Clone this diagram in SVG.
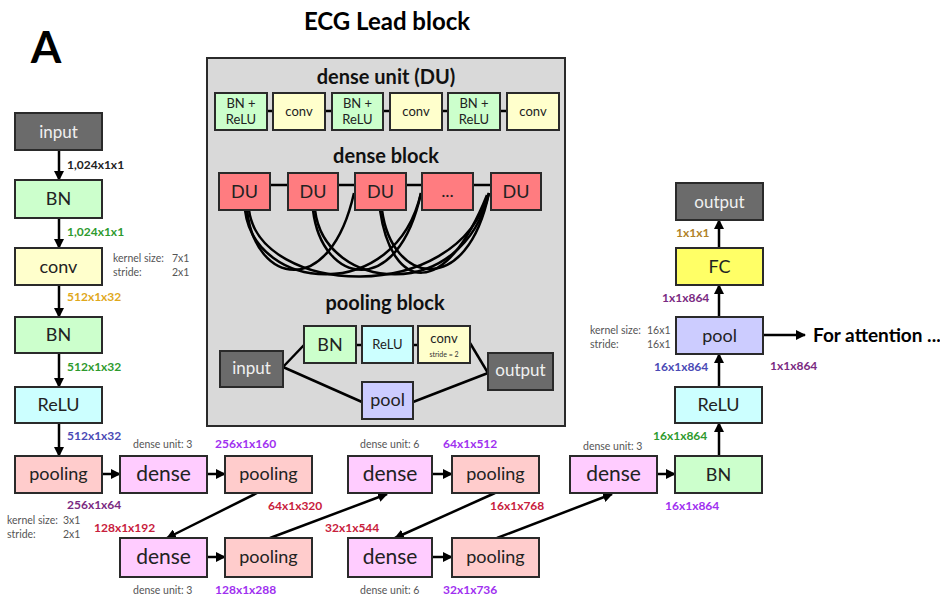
<svg xmlns="http://www.w3.org/2000/svg" width="940" height="596" viewBox="0 0 940 596">
  <defs>
    <marker id="ah" viewBox="0 0 10 10" refX="9" refY="5" markerWidth="10" markerHeight="10" markerUnits="userSpaceOnUse" orient="auto">
      <path d="M0,0 L10,5 L0,10 z" fill="#000"/>
    </marker>
    <style>
      text { font-family: Lato, "Open Sans", "Liberation Sans", sans-serif; }
      .box { stroke: #2a2a2a; stroke-width: 2; }
      .gray { fill: #6b6b6b; }
      .green { fill: #ccffcc; }
      .yellow { fill: #ffffcc; }
      .cyan { fill: #ccffff; }
      .pink { fill: #ffcccc; }
      .magenta { fill: #ffccff; }
      .red { fill: #ff7c80; }
      .lav { fill: #ccccff; }
      .fc { fill: #ffff66; }
      .t { font-size: 18px; fill: #222; text-anchor: middle; }
      .tw { font-size: 17px; fill: #f0f0f0; text-anchor: middle; }
      .td { font-size: 21px; fill: #222; text-anchor: middle; }
      .ts { font-size: 13px; fill: #222; text-anchor: middle; }
      .hd { font-size: 20px; font-weight: bold; fill: #111; text-anchor: middle; }
      .lbl { font-size: 12px; font-weight: bold; }
      .note { font-size: 10.5px; fill: #555; }
      .arr { stroke: #000; stroke-width: 2.5; fill: none; marker-end: url(#ah); }
      .ln { stroke: #000; stroke-width: 2.5; fill: none; }
      .cv { stroke: #000; stroke-width: 2.5; fill: none; }
    </style>
  </defs>

  <rect width="940" height="596" fill="#fff"/>

  <!-- Headings -->
  <text x="46" y="63" font-size="44" font-weight="bold" text-anchor="middle" fill="#000">A</text>
  <text x="387" y="30" font-size="24" font-weight="bold" text-anchor="middle" fill="#000">ECG Lead block</text>

  <!-- Lead-block detail panel -->
  <g id="detail-panel">
    <rect x="207" y="58" width="358" height="368" fill="#d9d9d9" stroke="#2a2a2a" stroke-width="2"/>
    <text class="hd" x="386" y="84">dense unit (DU)</text>
    <!-- dense unit chain -->
    <g class="ln">
      <line x1="267" y1="111" x2="273" y2="111"/>
      <line x1="325" y1="111" x2="332" y2="111"/>
      <line x1="383" y1="111" x2="390" y2="111"/>
      <line x1="442" y1="111" x2="448" y2="111"/>
      <line x1="500" y1="111" x2="507" y2="111"/>
    </g>
    <g id="du-bnrelu-1"><rect class="box green" x="215" y="93" width="52" height="37"/><text class="ts" x="241" y="108">BN +</text><text class="ts" x="241" y="124">ReLU</text></g>
    <g id="du-conv-1"><rect class="box yellow" x="273" y="93" width="52" height="37"/><text class="ts" x="299" y="116">conv</text></g>
    <g id="du-bnrelu-2"><rect class="box green" x="332" y="93" width="51" height="37"/><text class="ts" x="357.500" y="108">BN +</text><text class="ts" x="357.500" y="124">ReLU</text></g>
    <g id="du-conv-2"><rect class="box yellow" x="390" y="93" width="52" height="37"/><text class="ts" x="416" y="116">conv</text></g>
    <g id="du-bnrelu-3"><rect class="box green" x="448" y="93" width="52" height="37"/><text class="ts" x="474" y="108">BN +</text><text class="ts" x="474" y="124">ReLU</text></g>
    <g id="du-conv-3"><rect class="box yellow" x="507" y="93" width="52" height="37"/><text class="ts" x="533" y="116">conv</text></g>

    <text class="hd" x="386" y="163">dense block</text>
    <!-- dense block chain and skip connections -->
    <g class="ln">
      <line x1="270" y1="185" x2="288" y2="185"/>
      <line x1="338" y1="185" x2="355" y2="185"/>
      <line x1="406" y1="185" x2="422" y2="185"/>
      <line x1="473" y1="185" x2="491" y2="185"/>
    </g>
    <g class="cv">
      <path d="M247,210 C255,285 330,300 354,193"/>
      <path d="M245,210 C255,292 395,305 421,193"/>
      <path d="M249,210 C260,295 455,308 489,193"/>
      <path d="M313,210 C322,285 398,300 421,193"/>
      <path d="M315,210 C325,292 462,305 489,193"/>
      <path d="M382,210 C392,285 467,298 489,193"/>
      <path d="M380,210 C392,292 445,300 487,195"/>
    </g>
    <g id="du-1"><rect class="box red" x="219" y="173" width="51" height="37"/><text class="t" x="244.500" y="198">DU</text></g>
    <g id="du-2"><rect class="box red" x="288" y="173" width="50" height="37"/><text class="t" x="313" y="198">DU</text></g>
    <g id="du-3"><rect class="box red" x="355" y="173" width="51" height="37"/><text class="t" x="380.500" y="198">DU</text></g>
    <g id="du-dots"><rect class="box red" x="422" y="173" width="51" height="37"/><text class="t" x="447.500" y="197">...</text></g>
    <g id="du-5"><rect class="box red" x="491" y="173" width="50" height="37"/><text class="t" x="516" y="198">DU</text></g>

    <text class="hd" x="385" y="310">pooling block</text>
    <!-- pooling block paths -->
    <g class="ln">
      <line x1="283" y1="367" x2="304" y2="345"/>
      <line x1="283" y1="367" x2="362" y2="402"/>
      <line x1="356" y1="345" x2="362" y2="345"/>
      <line x1="413" y1="345" x2="418" y2="345"/>
      <line x1="470" y1="343" x2="488" y2="373"/>
      <line x1="413" y1="402" x2="488" y2="373"/>
    </g>
    <g id="pb-input"><rect class="box gray" x="220" y="351" width="63" height="36"/><text class="tw" x="251.500" y="374" font-size="13">input</text></g>
    <g id="pb-bn"><rect class="box green" x="304" y="326" width="52" height="37"/><text class="t" x="330" y="351">BN</text></g>
    <g id="pb-relu"><rect class="box cyan" x="362" y="326" width="51" height="37"/><text class="ts" x="387.500" y="349">ReLU</text></g>
    <g id="pb-conv"><rect class="box yellow" x="418" y="326" width="52" height="37"/><text class="ts" x="444" y="343" font-size="15">conv</text><text x="444" y="357" font-size="7" fill="#333" text-anchor="middle">stride = 2</text></g>
    <g id="pb-pool"><rect class="box lav" x="362" y="382" width="51" height="37"/><text class="t" x="387.500" y="406" font-size="15">pool</text></g>
    <g id="pb-output"><rect class="box gray" x="488" y="353" width="65" height="37"/><text class="tw" x="520.500" y="376" font-size="13">output</text></g>
  </g>

  <!-- Connectors -->
  <g id="connectors">
    <line class="arr" x1="59" y1="150" x2="59" y2="180"/>
    <line class="arr" x1="59" y1="218" x2="59" y2="248"/>
    <line class="arr" x1="59" y1="285" x2="59" y2="317"/>
    <line class="arr" x1="59" y1="353" x2="59" y2="387"/>
    <line class="arr" x1="59" y1="423" x2="59" y2="456"/>
    <line class="arr" x1="102" y1="474" x2="120" y2="474"/>
    <line class="arr" x1="207" y1="474" x2="225" y2="474"/>
    <line class="arr" x1="257" y1="493" x2="167" y2="538"/>
    <line class="arr" x1="207" y1="557" x2="225" y2="557"/>
    <line class="arr" x1="270" y1="538" x2="387" y2="494"/>
    <line class="arr" x1="432" y1="474" x2="452" y2="474"/>
    <line class="arr" x1="495" y1="493" x2="395" y2="538"/>
    <line class="arr" x1="432" y1="557" x2="452" y2="557"/>
    <line class="arr" x1="497" y1="538" x2="612" y2="494"/>
    <line class="arr" x1="657" y1="474" x2="675" y2="474"/>
    <line class="arr" x1="719" y1="456" x2="719" y2="423"/>
    <line class="arr" x1="719" y1="387" x2="719" y2="354"/>
    <line class="arr" x1="719" y1="317" x2="719" y2="285"/>
    <line class="arr" x1="719" y1="248" x2="719" y2="220"/>
    <line class="arr" x1="763" y1="335" x2="805" y2="335"/>
  </g>

  <!-- Stem column -->
  <g id="input"><rect class="box gray" x="15" y="113" width="87" height="37"/><text class="tw" x="58.500" y="138">input</text></g>
  <g id="bn-1"><rect class="box green" x="15" y="180" width="87" height="38"/><text class="t" x="58.500" y="205">BN</text></g>
  <g id="conv"><rect class="box yellow" x="15" y="248" width="87" height="37"/><text class="t" x="58.500" y="273">conv</text></g>
  <g id="bn-2"><rect class="box green" x="15" y="317" width="87" height="36"/><text class="t" x="58.500" y="341">BN</text></g>
  <g id="relu-1"><rect class="box cyan" x="15" y="387" width="87" height="36"/><text class="t" x="58.500" y="411">ReLU</text></g>
  <g id="pooling-0"><rect class="box pink" x="15" y="456" width="87" height="37"/><text class="t" x="58.500" y="480" font-size="17">pooling</text></g>

  <!-- Dense / pooling stages -->
  <g id="dense-1"><rect class="box magenta" x="120" y="456" width="87" height="37"/><text class="td" x="163.500" y="481">dense</text></g>
  <g id="pooling-1"><rect class="box pink" x="225" y="456" width="87" height="37"/><text class="t" x="268.500" y="480" font-size="17">pooling</text></g>
  <g id="dense-2"><rect class="box magenta" x="120" y="538" width="87" height="39"/><text class="td" x="163.500" y="564">dense</text></g>
  <g id="pooling-2"><rect class="box pink" x="225" y="538" width="87" height="39"/><text class="t" x="268.500" y="563" font-size="17">pooling</text></g>
  <g id="dense-3"><rect class="box magenta" x="348" y="456" width="84" height="37"/><text class="td" x="390" y="481">dense</text></g>
  <g id="pooling-3"><rect class="box pink" x="452" y="456" width="87" height="37"/><text class="t" x="495.500" y="480" font-size="17">pooling</text></g>
  <g id="dense-4"><rect class="box magenta" x="348" y="538" width="84" height="39"/><text class="td" x="390" y="564">dense</text></g>
  <g id="pooling-4"><rect class="box pink" x="452" y="538" width="87" height="39"/><text class="t" x="495.500" y="563" font-size="17">pooling</text></g>
  <g id="dense-5"><rect class="box magenta" x="570" y="456" width="87" height="37"/><text class="td" x="613.500" y="481">dense</text></g>

  <!-- Head column -->
  <g id="bn-3"><rect class="box green" x="675" y="456" width="87" height="37"/><text class="t" x="718.500" y="481">BN</text></g>
  <g id="relu-2"><rect class="box cyan" x="675" y="387" width="87" height="36"/><text class="t" x="718.500" y="411">ReLU</text></g>
  <g id="pool"><rect class="box lav" x="676" y="317" width="87" height="37"/><text class="t" x="719.500" y="342">pool</text></g>
  <g id="fc"><rect class="box fc" x="676" y="248" width="87" height="37"/><text class="t" x="719.500" y="273">FC</text></g>
  <g id="output"><rect class="box gray" x="676" y="183" width="87" height="37"/><text class="tw" x="719.500" y="208">output</text></g>
  <text x="813" y="342" font-size="19" font-weight="bold" fill="#000">For attention ...</text>

  <!-- Tensor shapes -->
  <g class="lbl">
    <text x="67" y="169" fill="#222">1,024x1x1</text>
    <text x="67" y="236" fill="#2e9a2e">1,024x1x1</text>
    <text x="67" y="301" fill="#e0a81c">512x1x32</text>
    <text x="67" y="371" fill="#2e9a2e">512x1x32</text>
    <text x="67" y="440" fill="#4a4ab5">512x1x32</text>
    <text x="67" y="509" fill="#7a2a82">256x1x64</text>
    <text x="94" y="532" fill="#c8203c">128x1x192</text>
    <text x="215" y="448" fill="#a030f0">256x1x160</text>
    <text x="268" y="510" fill="#c8203c">64x1x320</text>
    <text x="215" y="594" fill="#a030f0">128x1x288</text>
    <text x="443" y="448" fill="#a030f0">64x1x512</text>
    <text x="490" y="510" fill="#c8203c">16x1x768</text>
    <text x="325" y="532" fill="#c8203c">32x1x544</text>
    <text x="443" y="594" fill="#a030f0">32x1x736</text>
    <text x="665" y="510" fill="#a030f0">16x1x864</text>
    <text x="653" y="440" fill="#2e9a2e">16x1x864</text>
    <text x="654" y="371" fill="#4a4ab5">16x1x864</text>
    <text x="662" y="302" fill="#7a2a82">1x1x864</text>
    <text x="676" y="237" fill="#b08228">1x1x1</text>
    <text x="770" y="370" fill="#7a2a82">1x1x864</text>
  </g>

  <!-- Layer settings -->
  <g class="note">
    <text x="113" y="262">kernel size:</text><text x="172" y="262">7x1</text>
    <text x="113" y="276">stride:</text><text x="172" y="276">2x1</text>
    <text x="7" y="524">kernel size:</text><text x="63" y="524">3x1</text>
    <text x="7" y="538">stride:</text><text x="63" y="538">2x1</text>
    <text x="590" y="334">kernel size:</text><text x="647" y="334">16x1</text>
    <text x="590" y="348">stride:</text><text x="647" y="348">16x1</text>
    <text x="133" y="448">dense unit:  3</text>
    <text x="133" y="594">dense unit:  3</text>
    <text x="360" y="448">dense unit:  6</text>
    <text x="360" y="594">dense unit:  6</text>
    <text x="583" y="450">dense unit:  3</text>
  </g>
</svg>
